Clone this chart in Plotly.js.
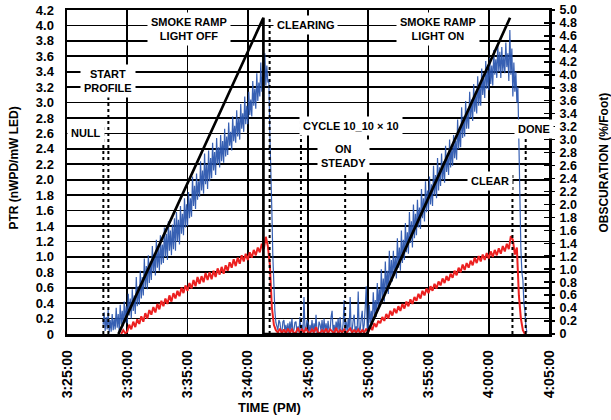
<!DOCTYPE html>
<html>
<head>
<meta charset="utf-8">
<script src="https://cdn.plot.ly/plotly-3.0.1.min.js"></script>
<style>html,body{margin:0;padding:0;background:#fff;}#chart{width:611px;height:420px;}</style>
</head>
<body>
<div id="chart"></div>
<script>
// ---- data ----
const day = '2000-01-01';

// PTR trace (blue), sampled every 5 s from 3:28:00 PM (one row = one minute)
const blueStart = '15:28:00';
const blueStepSec = 5;
const blueValues = [
  0.12,0.28,0.04,0.22,0.06,0.32,0.02,0.18,0.03,0.26,0.05,0.20,
  0.06,0.34,0.08,0.26,0.03,0.38,0.12,0.30,0.10,0.42,0.15,0.36,
  0.14,0.52,0.24,0.46,0.20,0.58,0.30,0.50,0.26,0.74,0.36,0.62,
  0.38,0.82,0.46,0.74,0.50,0.98,0.60,0.88,0.58,1.02,0.66,0.94,
  0.70,1.14,0.80,1.04,0.76,1.22,0.86,1.10,0.82,1.28,0.90,1.16,
  0.92,1.38,1.00,1.30,0.96,1.46,1.08,1.34,1.02,1.42,1.10,1.50,
  1.08,1.58,1.20,1.48,1.16,1.66,1.30,1.56,1.28,1.76,1.38,1.68,
  1.40,1.84,1.50,1.76,1.52,2.04,1.66,1.92,1.62,2.08,1.74,1.98,
  1.78,2.24,1.86,2.12,1.82,2.34,1.94,2.20,1.88,2.38,1.98,2.28,
  2.02,2.48,2.12,2.36,2.06,2.54,2.20,2.42,2.16,2.58,2.24,2.50,
  2.22,2.66,2.30,2.56,2.32,2.74,2.44,2.62,2.38,2.82,2.50,2.70,
  2.48,2.90,2.56,2.80,2.52,2.98,2.66,2.86,2.62,3.08,2.72,2.96,
  2.72,3.14,2.84,3.04,2.82,3.28,2.96,3.18,2.92,3.38,3.02,3.26,
  3.08,3.52,3.14,3.40,3.16,3.64,3.22,3.48,3.26,3.30,2.60,2.20,
  1.60,1.00,0.50,0.30,0.15,0.08,0.05,0.18,0.15,0.04,0.02,0.16,
  0.18,0.03,0.12,0.02,0.14,0.01,0.16,0.04,0.20,0.02,0.05,0.15,
  0.16,0.02,0.10,0.03,0.22,0.04,0.12,0.02,0.48,0.05,0.06,0.18,
  0.15,0.01,0.12,0.03,0.18,0.02,0.14,0.03,0.25,0.02,0.02,0.16,
  0.12,0.04,0.18,0.01,0.20,0.03,0.14,0.02,0.17,0.04,0.05,0.22,
  0.30,0.03,0.12,0.02,0.16,0.06,0.20,0.01,0.22,0.03,0.01,0.14,
  0.44,0.04,0.16,0.02,0.20,0.05,0.48,0.03,0.05,0.18,0.25,0.02,
  0.10,0.04,0.55,0.02,0.06,0.20,0.30,0.04,0.12,0.35,0.62,0.05,
  0.06,0.38,0.14,0.30,0.12,0.54,0.24,0.44,0.22,0.66,0.34,0.58,
  0.36,0.84,0.46,0.72,0.42,0.94,0.56,0.82,0.52,1.08,0.64,0.96,
  0.68,1.08,0.76,1.00,0.72,1.24,0.86,1.12,0.82,1.34,0.92,1.22,
  0.96,1.44,1.06,1.32,1.04,1.58,1.18,1.46,1.12,1.68,1.24,1.56,
  1.28,1.74,1.38,1.64,1.36,1.88,1.50,1.76,1.46,1.98,1.58,1.86,
  1.60,2.04,1.68,1.94,1.66,2.18,1.80,2.06,1.76,2.28,1.86,2.16,
  1.92,2.34,2.00,2.24,1.96,2.44,2.10,2.32,2.06,2.52,2.16,2.42,
  2.18,2.58,2.28,2.50,2.26,2.78,2.40,2.66,2.42,2.94,2.54,2.82,
  2.56,3.02,2.66,2.92,2.66,3.14,2.80,3.04,2.76,3.24,2.88,3.12,
  2.86,3.34,2.96,3.22,2.96,3.44,3.10,3.32,3.06,3.54,3.18,3.42,
  3.16,3.58,3.24,3.48,3.22,3.68,3.36,3.56,3.32,3.76,3.40,3.66,
  3.32,3.72,3.40,3.60,3.38,3.78,3.46,3.64,3.28,3.94,3.36,3.70,
  3.08,3.52,3.14,3.40,3.00,3.20,2.30,1.60,1.10,0.80,0.70,0.40,
  0.30,0.10,0.02
];

// Obscuration trace (red), sampled every 10 s from 3:29:30 PM
const redStart = '15:29:30';
const redStepSec = 10;
const redValues = [
  0.00,0.05,0.01,
  0.03,0.12,0.06,0.16,0.09,0.19,
  0.13,0.23,0.16,0.27,0.20,0.31,
  0.25,0.35,0.28,0.39,0.32,0.43,
  0.36,0.46,0.39,0.50,0.42,0.53,
  0.46,0.56,0.49,0.60,0.53,0.63,
  0.56,0.66,0.59,0.70,0.62,0.74,
  0.65,0.75,0.67,0.79,0.70,0.80,
  0.71,0.82,0.74,0.85,0.77,0.87,
  0.78,0.89,0.82,0.93,0.86,0.97,
  0.88,0.99,0.91,1.02,0.94,1.04,
  0.96,1.06,0.99,1.09,1.02,1.12,
  1.06,1.17,1.10,1.26,1.14,0.90,
  0.35,0.12,0.05,0.02,0.07,0.01,
  0.06,0.01,0.07,0.02,0.06,0.01,
  0.02,0.08,0.01,0.06,0.02,0.07,
  0.03,0.01,0.06,0.02,0.09,0.02,
  0.01,0.05,0.02,0.07,0.01,0.06,
  0.04,0.01,0.08,0.01,0.05,0.02,
  0.06,0.01,0.04,0.07,0.02,0.05,
  0.02,0.06,0.01,0.05,0.02,0.07,
  0.02,0.10,0.05,0.14,0.09,0.17,
  0.14,0.22,0.17,0.26,0.20,0.30,
  0.24,0.33,0.27,0.36,0.30,0.39,
  0.33,0.42,0.36,0.45,0.39,0.48,
  0.43,0.52,0.46,0.56,0.50,0.59,
  0.53,0.62,0.56,0.65,0.59,0.68,
  0.63,0.72,0.66,0.75,0.69,0.78,
  0.73,0.82,0.76,0.86,0.80,0.90,
  0.83,0.92,0.86,0.95,0.89,0.99,
  0.92,1.01,0.94,1.03,0.96,1.05,
  0.98,1.07,1.00,1.09,1.02,1.11,
  1.04,1.14,1.07,1.17,1.10,1.27,
  1.22,1.03,1.12,0.50,0.20,0.05,
  0.00
];

// Smoke ramp profile (black)
const rampTimes  = ['15:29:16','15:41:18','15:41:18','15:49:53','16:01:46'];
const rampValues = [0, 4.1, 0, 0, 4.1];

// Event markers (dotted verticals)
const markerTimes = ['15:28:01','15:28:26','15:41:49','15:44:25','15:48:05','16:01:58','16:03:04'];
const markerTops  = [2.68, 3.12, 4.1, 2.76, 2.13, 2.06, 2.55];

// Event labels
const labelTexts  = ['SMOKE RAMP<br>LIGHT OFF','CLEARING','SMOKE RAMP<br>LIGHT ON','START<br>PROFILE','NULL','CYCLE 10_10 × 10','ON<br>STEADY','CLEAR','DONE'];
const labelTimes  = ['15:35:05','15:42:07','15:55:48','15:28:26','15:26:34','15:48:35','15:47:56','16:00:06','16:03:43'];
const labelValues = [3.96, 4.0, 3.96, 3.28, 2.6, 2.69, 2.31, 1.98, 2.66];
const labelAnchors= ['center','left','center','center','center','center','center','center','center'];

// Axis ticks
const leftTickVals  = [0,0.2,0.4,0.6,0.8,1.0,1.2,1.4,1.6,1.8,2.0,2.2,2.4,2.6,2.8,3.0,3.2,3.4,3.6,3.8,4.0,4.2];
const leftTickText  = ['0','0.2','0.4','0.6','0.8','1.0','1.2','1.4','1.6','1.8','2.0','2.2','2.4','2.6','2.8','3.0','3.2','3.4','3.6','3.8','4.0','4.2'];
const rightTickVals = [0,0.2,0.4,0.6,0.8,1.0,1.2,1.4,1.6,1.8,2.0,2.2,2.4,2.6,2.8,3.0,3.2,3.4,3.6,3.8,4.0,4.2,4.4,4.6,4.8,5.0];
const rightTickText = ['0','0.2','0.4','0.6','0.8','1.0','1.2','1.4','1.6','1.8','2.0','2.2','2.4','2.6','2.8','3.0','3.2','3.4','3.6','3.8','4.0','4.2','4.4','4.6','4.8','5.0'];
const xStart = '15:25:00', xEnd = '16:05:00';

// ---- helpers ----
function stamp(hms) { return day + ' ' + hms; }
function toSec(hms) { const p = hms.split(':').map(Number); return p[0]*3600 + p[1]*60 + p[2]; }
function fromSec(s) {
  const h = Math.floor(s/3600), m = Math.floor((s%3600)/60), sec = s%60;
  const pad = n => String(n).padStart(2,'0');
  return day + ' ' + pad(h) + ':' + pad(m) + ':' + pad(sec);
}
function sampleTimes(start, n, step) {
  const s0 = toSec(start); const out = [];
  for (let i = 0; i < n; i++) out.push(fromSec(s0 + i*step));
  return out;
}

const FONT = 'Liberation Sans, Arial, sans-serif';

const traces = [
  { x: sampleTimes(blueStart, blueValues.length, blueStepSec), y: blueValues, type: 'scatter', mode: 'lines',
    line: { color: 'rgb(38,82,172)', width: 1.2 }, opacity: 0.92, name: 'PTR', hoverinfo: 'skip' },
  { x: sampleTimes(redStart, redValues.length, redStepSec), y: redValues, type: 'scatter', mode: 'lines',
    line: { color: 'rgb(236,32,32)', width: 2 }, name: 'Obscuration', hoverinfo: 'skip' },
  { x: rampTimes.map(stamp), y: rampValues, type: 'scatter', mode: 'lines',
    line: { color: '#000', width: 2.7 }, name: 'Smoke ramp', hoverinfo: 'skip' },
  { x: [null], y: [null], yaxis: 'y2', type: 'scatter', mode: 'lines', showlegend: false, hoverinfo: 'skip' },
  { x: [null], y: [null], yaxis: 'y3', type: 'scatter', mode: 'lines', showlegend: false, hoverinfo: 'skip' }
];

const shapes = markerTimes.map((t, i) => ({
  type: 'line', xref: 'x', yref: 'y', x0: stamp(t), x1: stamp(t), y0: 0, y1: markerTops[i],
  line: { color: '#000', width: 2, dash: 'dot' }, layer: 'above'
}));

const annFont = { family: FONT, size: 11, color: '#000', weight: 'bold' };
const annotations = labelTexts.map((txt, i) => ({
  text: txt, xref: 'x', yref: 'y', x: stamp(labelTimes[i]), y: labelValues[i],
  xanchor: labelAnchors[i], yanchor: 'middle', showarrow: false, bgcolor: '#fff',
  borderpad: 3, font: annFont, align: 'center'
}));
annotations.push(
  { text: 'TIME (PM)', xref: 'paper', yref: 'paper', x: 0.421, y: -0.228, xanchor: 'center', yanchor: 'middle',
    showarrow: false, font: { family: FONT, size: 13, color: '#000', weight: 'bold' } },
  { text: 'PTR (nWPD/mW LED)', xref: 'paper', yref: 'paper', x: -0.109, y: 0.512, xanchor: 'center', yanchor: 'middle',
    textangle: -90, showarrow: false, font: { family: FONT, size: 12, color: '#000', weight: 'bold' } },
  { text: 'OBSCURATION (%/Foot)', xref: 'paper', yref: 'paper', x: 1.114, y: 0.529, xanchor: 'center', yanchor: 'middle',
    textangle: -90, showarrow: false, font: { family: FONT, size: 12, color: '#000', weight: 'bold' } }
);

const layout = {
  width: 611, height: 420,
  margin: { l: 67, r: 62, t: 10, b: 86 },
  paper_bgcolor: '#fff', plot_bgcolor: '#fff',
  showlegend: false,
  font: { family: FONT, size: 12, color: '#000', weight: 'bold' },
  xaxis: {
    type: 'date', range: [stamp(xStart), stamp(xEnd)], tick0: stamp(xStart), dtick: 300000,
    tickformat: '%-I:%M:%S', tickangle: -90, ticks: '', ticklabelstandoff: 8,
    showgrid: true, gridcolor: '#000', gridwidth: 1.6,
    showline: true, linecolor: '#000', linewidth: 2.5, mirror: true, zeroline: false,
    tickfont: { size: 14, weight: 'bold' }
  },
  yaxis: {
    range: [0, 4.2], tickmode: 'array', tickvals: leftTickVals, ticktext: leftTickText,
    ticks: '', ticklabelstandoff: 8, showgrid: true, gridcolor: '#000', gridwidth: 1.6,
    showline: true, linecolor: '#000', linewidth: 2.5, mirror: true, zeroline: false,
    tickfont: { size: 13, weight: 'bold' }
  },
  yaxis2: {
    overlaying: 'y', side: 'right', anchor: 'x', range: [0, 5], tickmode: 'array',
    tickvals: rightTickVals, ticktext: rightTickText, ticks: 'outside', ticklen: 5, tickwidth: 1.5,
    tickcolor: '#000', showgrid: false, zeroline: false, showline: false, ticklabelstandoff: 2,
    tickfont: { size: 12.5, weight: 'bold' }
  },
  yaxis3: {
    overlaying: 'y', side: 'right', anchor: 'x', range: [0, 5], tickmode: 'array',
    tickvals: rightTickVals, ticks: 'inside', ticklen: 5, tickwidth: 1.5, tickcolor: '#000',
    showticklabels: false, showgrid: false, zeroline: false, showline: false
  },
  shapes: shapes,
  annotations: annotations
};

Plotly.newPlot('chart', traces, layout, { staticPlot: true, displayModeBar: false });
</script>
</body>
</html>
